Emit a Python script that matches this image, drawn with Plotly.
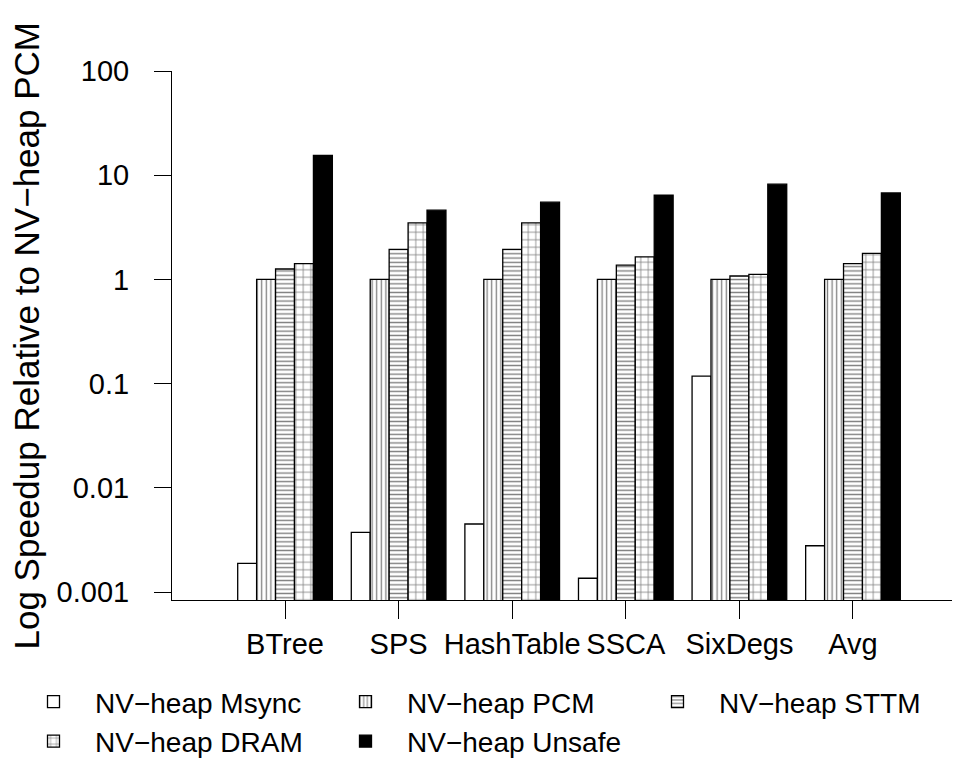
import plotly.graph_objects as go

categories = ["BTree", "SPS", "HashTable", "SSCA", "SixDegs", "Avg"]
series_names = ["NV\u2212heap Msync", "NV\u2212heap PCM", "NV\u2212heap STTM",
                "NV\u2212heap DRAM", "NV\u2212heap Unsafe"]
msync = [0.00189, 0.00375, 0.00451, 0.00136, 0.118, 0.00279]
pcm = [1.0, 1.0, 1.0, 1.0, 1.0, 1.0]
sttm = [1.26, 1.94, 1.94, 1.37, 1.08, 1.42]
dram = [1.42, 3.49, 3.49, 1.65, 1.12, 1.78]
unsafe = [15.5, 4.62, 5.51, 6.43, 8.2, 6.76]
y_tickvals = [0.001, 0.01, 0.1, 1, 10, 100]
y_ticktext = ["0.001", "0.01", "0.1", "1", "10", "100"]

FONT = "Liberation Sans, Arial, Helvetica, sans-serif"
W, H = 960, 761
# page has an 8px body margin; figure coordinates are shifted accordingly
L, R, T, B = 164, 8, 63, 169
PW, PH = W - L - R, H - T - B

styles = [
    dict(color="white", pattern=dict(shape="")),
    dict(color="white", pattern=dict(shape="|", size=4.6, solidity=0.28, fgcolor="black", bgcolor="white", fillmode="overlay")),
    dict(color="white", pattern=dict(shape="-", size=4.3, solidity=0.32, fgcolor="black", bgcolor="white", fillmode="overlay")),
    dict(color="white", pattern=dict(shape="+", size=7.5, solidity=0.2, fgcolor="black", bgcolor="white", fillmode="overlay")),
    dict(color="black", pattern=dict(shape="")),
]
values = [msync, pcm, sttm, dram, unsafe]
# legend laid out in 3 columns, filled row by row (as in the reference)
legend_ids = ["legend", "legend2", "legend3", "legend", "legend2"]

fig = go.Figure()
for name, vals, st, lg in zip(series_names, values, styles, legend_ids):
    fig.add_trace(go.Bar(
        x=categories, y=vals, name=name, legend=lg,
        marker=dict(color=st["color"], pattern=st["pattern"],
                    line=dict(color="black", width=1.3)),
    ))

leg_common = dict(orientation="v", xref="container", yref="container",
                  xanchor="left", yanchor="top", itemwidth=73,
                  font=dict(size=28), tracegroupgap=0,
                  bgcolor="rgba(0,0,0,0)", traceorder="normal")
leg_top = 1 - 669 / H
fig.update_layout(
    width=W, height=H,
    margin=dict(l=L, r=R, t=T, b=B, autoexpand=False),
    paper_bgcolor="white", plot_bgcolor="white",
    barmode="group", bargap=1/6, bargroupgap=0,
    font=dict(family=FONT, size=29, color="black"),
    showlegend=True,
    legend=dict(x=4 / W, y=leg_top, **leg_common),
    legend2=dict(x=316 / W, y=leg_top, **leg_common),
    legend3=dict(x=628 / W, y=leg_top, **leg_common),
)
fig.update_xaxes(
    type="category", range=[-0.995, 5.942],
    showline=True, linecolor="black", linewidth=1,
    ticks="outside", ticklen=18, tickwidth=1, tickcolor="black",
    showgrid=False, zeroline=False, ticklabelstandoff=0,
)
fig.update_yaxes(
    type="log", range=[-3.075, 2.0],
    tickvals=y_tickvals, ticktext=y_ticktext,
    showline=True, linecolor="black", linewidth=1,
    ticks="outside", ticklen=17, tickwidth=1, tickcolor="black",
    showgrid=False, zeroline=False, ticklabelstandoff=19,
)
fig.add_annotation(
    text="Log Speedup Relative to NV\u2212heap PCM",
    xref="paper", yref="paper",
    x=(18 - L) / PW, y=0.5,
    xanchor="center", yanchor="middle", textangle=-90, showarrow=False,
    font=dict(family=FONT, size=35, color="black"),
)
fig.write_html("out.html")
